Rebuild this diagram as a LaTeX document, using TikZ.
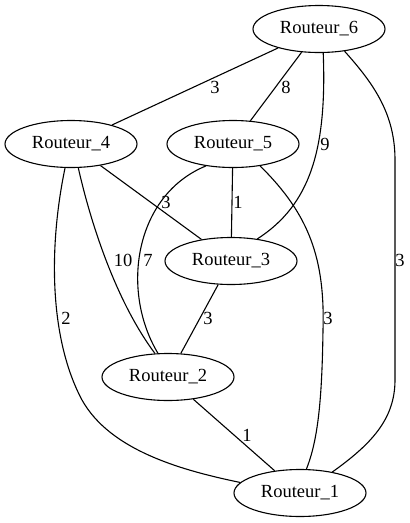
\documentclass[tikz,border=0pt]{standalone}
\usepackage{fontspec}
\setmainfont{Liberation Serif}
\usetikzlibrary{shapes.geometric}
\begin{document}
\begin{tikzpicture}[x=1pt,y=-1pt,
  router/.style={ellipse,draw,line width=1.1pt,minimum width=132pt,minimum height=47pt,inner sep=0pt,
    font=\fontsize{18.5}{20}\selectfont},
  link/.style={line width=1.1pt},
  weight/.style={inner sep=0pt,font=\fontsize{18.5}{20}\selectfont}]
\useasboundingbox (0,0) rectangle (410,523);

% routers
\node[router] (r6) at (319,29)  {Routeur\_6};
\node[router] (r4) at (71,144)  {Routeur\_4};
\node[router] (r5) at (233,144) {Routeur\_5};
\node[router] (r3) at (231,261) {Routeur\_3};
\node[router] (r2) at (168,377) {Routeur\_2};
\node[router] (r1) at (300,493) {Routeur\_1};

% straight links
\draw[link] (r6) -- (r4);
\draw[link] (r6) -- (r5);
\draw[link] (r4) -- (r3);
\draw[link] (r5) -- (r3);
\draw[link] (r3) -- (r2);
\draw[link] (r2) -- (r1);

% curved links
\draw[link] (r6.-80.5) .. controls (327,150) and (310,205) .. (r3.40);
\draw[link] (r6.-41.5) .. controls (375,85) and (395,115) .. (395,160)
  -- (395,380) .. controls (395,420) and (370,445) .. (r1.33.7);
\draw[link] (r4.-73) .. controls (90,220) and (115,300) .. (r2.119.5);
\draw[link] (r4.-104.6) .. controls (48,250) and (50,340) .. (82,400)
  .. controls (110,450) and (180,470) .. (r1.170.5);
\draw[link] (r5.-141.8) .. controls (135,195) and (120,290) .. (r2.113.5);
\draw[link] (r5.-39) .. controls (310,215) and (325,260) .. (323,330)
  .. controls (322,400) and (318,440) .. (r1.75.4);

% link weights
\node[weight] (w64) at (215,87)  {3};
\node[weight] (w65) at (286,87)  {8};
\node[weight] (w63) at (325,144) {9};
\node[weight] (w61) at (400,260) {3};
\node[weight] (w43) at (166,202) {3};
\node[weight] (w53) at (238,202) {1};
\node[weight] (w42) at (123,260) {10};
\node[weight] (w52) at (148,260) {7};
\node[weight] (w41) at (66,318)  {2};
\node[weight] (w32) at (208,318) {3};
\node[weight] (w51) at (328,318) {3};
\node[weight] (w21) at (247,435) {1};
\end{tikzpicture}
\end{document}
